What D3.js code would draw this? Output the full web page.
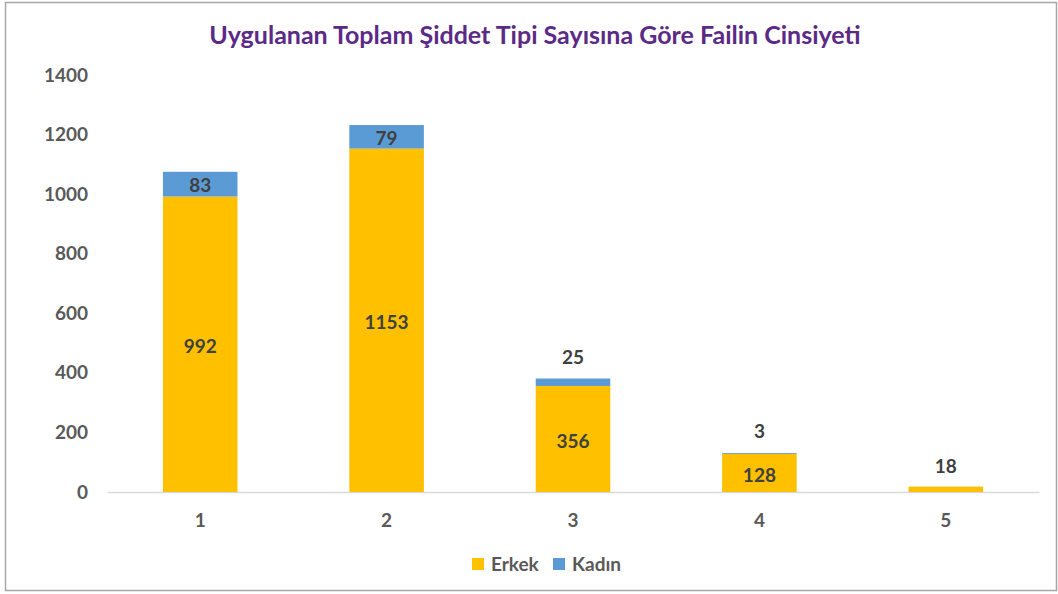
<!DOCTYPE html>
<html lang="tr">
<head>
<meta charset="utf-8">
<title>Uygulanan Toplam Şiddet Tipi Sayısına Göre Failin Cinsiyeti</title>
<script src="https://cdn.jsdelivr.net/npm/d3@7"></script>
<style>
  body { margin: 0; background: #fff; }
  text { font-family: Lato, "Open Sans", sans-serif; font-weight: bold; }
  .tick text { fill: #595959; font-size: 19px; }
</style>
</head>
<body>
<svg id="chart" width="1058" height="594"></svg>
<script>
// data
const categories = ["1", "2", "3", "4", "5"];
const erkek = [992, 1153, 356, 128, 18];
const kadin = [83, 79, 25, 3, 0];
const yTicks = [0, 200, 400, 600, 800, 1000, 1200, 1400];
const seriesNames = ["Erkek", "Kadın"];
const colors = ["#FFC000", "#5B9BD5"];

const svg = d3.select("#chart");

// frame
svg.append("rect")
  .attr("x", 5.5).attr("y", 2.5)
  .attr("width", 1051).attr("height", 588)
  .attr("fill", "#fff").attr("stroke", "#a6a6a6").attr("stroke-width", 1.5);

svg.append("text")
  .attr("x", 535).attr("y", 44)
  .attr("text-anchor", "middle")
  .attr("fill", "#5B2A86")
  .style("font-size", "25px")
  .text("Uygulanan Toplam Şiddet Tipi Sayısına Göre Failin Cinsiyeti");

const x = d3.scaleBand()
  .domain(categories)
  .range([107, 1039])
  .paddingInner(0.6)
  .paddingOuter(0.3);

const y = d3.scaleLinear().domain([0, 1400]).range([492, 75]);

// y axis labels only
const yAxis = svg.append("g")
  .attr("transform", "translate(96,0)")
  .call(d3.axisLeft(y).tickValues(yTicks).tickFormat(d3.format("d")).tickSize(0).tickPadding(8));
yAxis.select(".domain").remove();

// x axis
const xAxis = svg.append("g")
  .attr("transform", "translate(0,492)")
  .call(d3.axisBottom(x).tickSize(0).tickPadding(22));
xAxis.select(".domain").attr("stroke", "#d9d9d9").attr("stroke-width", 1.5);

const rows = categories.map((c, i) => ({ cat: c, Erkek: erkek[i], Kadın: kadin[i] }));
const stacked = d3.stack().keys(seriesNames)(rows);

const layers = svg.append("g").selectAll("g")
  .data(stacked)
  .join("g")
  .attr("fill", (d, i) => colors[i]);

layers.selectAll("rect")
  .data(d => d)
  .join("rect")
  .attr("x", d => x(d.data.cat))
  .attr("width", x.bandwidth())
  .attr("y", d => y(d[1]))
  .attr("height", d => y(d[0]) - y(d[1]));

// labels
const labels = svg.append("g").attr("fill", "#404040").style("font-size", "19px")
  .attr("text-anchor", "middle");

rows.forEach((r, i) => {
  const cx = x(r.cat) + x.bandwidth() / 2;
  const eh = y(0) - y(r.Erkek);
  if (eh > 30) {
    labels.append("text").attr("x", cx).attr("y", y(r.Erkek / 2) + 9).text(r.Erkek);
  } else {
    labels.append("text").attr("x", cx).attr("y", y(r.Erkek) - 14).text(r.Erkek);
  }
  if (r.Kadın > 0) {
    const kh = y(r.Erkek) - y(r.Erkek + r.Kadın);
    if (kh > 20) {
      labels.append("text").attr("x", cx).attr("y", y(r.Erkek + r.Kadın / 2) + 8).text(r.Kadın);
    } else {
      labels.append("text").attr("x", cx).attr("y", y(r.Erkek + r.Kadın) - 15).text(r.Kadın);
    }
  }
});

// legend
const legend = svg.append("g").attr("transform", "translate(472,558)");
const items = legend.selectAll("g")
  .data(seriesNames)
  .join("g")
  .attr("transform", (d, i) => `translate(${i * 81},0)`);
items.append("rect")
  .attr("width", 12).attr("height", 12)
  .attr("fill", (d, i) => colors[i]);
items.append("text")
  .attr("x", 19).attr("y", 13)
  .attr("fill", "#595959")
  .style("font-size", "19px")
  .text(d => d);
</script>
</body>
</html>
